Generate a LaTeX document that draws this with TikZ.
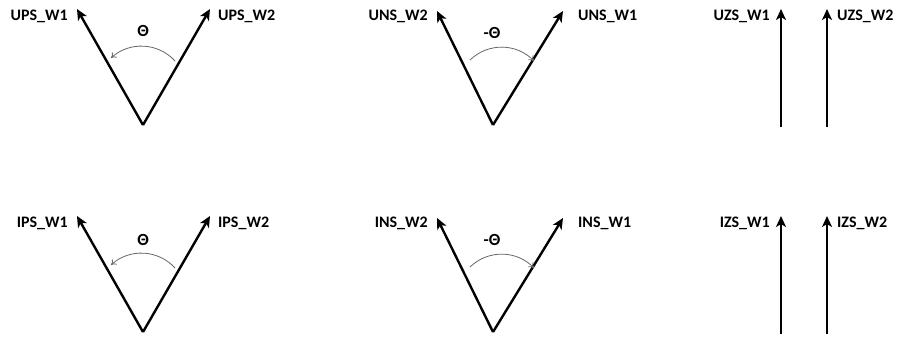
\documentclass[tikz,border=0pt]{standalone}
\usepackage{fontspec}
\setmainfont{Carlito}
\usetikzlibrary{arrows.meta}
\begin{document}
\begin{tikzpicture}[x=1pt,y=-1pt,
  vec/.style={line width=2.4pt,-{Stealth[length=11pt,width=10pt,inset=3pt]}},
  ang/.style={draw=black!60,line width=0.8pt,-{To[length=5pt,width=7pt]}},
  lbl/.style={font=\bfseries\fontsize{16}{18}\selectfont,inner sep=0pt},
  theta/.style={font=\bfseries\fontsize{17}{19}\selectfont,inner sep=0pt}]
\useasboundingbox (0,0) rectangle (899,337);
% ---- top row
\coordinate (v1) at (143,125);
\coordinate (a1) at (77,9);
\coordinate (b1) at (210,9);
\draw[vec] (v1) -- (a1);
\draw[vec] (v1) -- (b1);
\node[lbl,anchor=east] (la1) at (68,16) {UPS\_W1};
\node[lbl,anchor=west] (lb1) at (218,16) {UPS\_W2};
\coordinate (s1) at (175,61);
\coordinate (e1) at (111,58);
\draw[ang] (s1) to[bend right=45] (e1);
\node[theta] (t1) at (143,31) {Θ};

\coordinate (v2) at (493,125);
\coordinate (a2) at (437,11);
\coordinate (b2) at (563,11);
\draw[vec] (v2) -- (a2);
\draw[vec] (v2) -- (b2);
\node[lbl,anchor=east] (la2) at (428,16) {UNS\_W2};
\node[lbl,anchor=west] (lb2) at (578,16) {UNS\_W1};
\coordinate (s2) at (470,60);
\coordinate (e2) at (534,61);
\draw[ang] (s2) to[bend left=45] (e2);
\node[theta] (t2) at (492,33) {-Θ};

\coordinate (p1) at (781,127);
\coordinate (q1) at (781,9);
\coordinate (p2) at (827,127);
\coordinate (q2) at (827,9);
\draw[vec] (p1) -- (q1);
\draw[vec] (p2) -- (q2);
\node[lbl,anchor=east] (lc1) at (770,16) {UZS\_W1};
\node[lbl,anchor=west] (lc2) at (837,16) {UZS\_W2};
% ---- bottom row
\coordinate (v3) at (143,332);
\coordinate (a3) at (77,216);
\coordinate (b3) at (210,216);
\draw[vec] (v3) -- (a3);
\draw[vec] (v3) -- (b3);
\node[lbl,anchor=east] (la3) at (68,223) {IPS\_W1};
\node[lbl,anchor=west] (lb3) at (218,223) {IPS\_W2};
\coordinate (s3) at (175,268);
\coordinate (e3) at (111,265);
\draw[ang] (s3) to[bend right=45] (e3);
\node[theta] (t3) at (143,240) {Θ};

\coordinate (v4) at (493,332);
\coordinate (a4) at (437,218);
\coordinate (b4) at (563,218);
\draw[vec] (v4) -- (a4);
\draw[vec] (v4) -- (b4);
\node[lbl,anchor=east] (la4) at (428,223) {INS\_W2};
\node[lbl,anchor=west] (lb4) at (578,223) {INS\_W1};
\coordinate (s4) at (470,267);
\coordinate (e4) at (534,268);
\draw[ang] (s4) to[bend left=45] (e4);
\node[theta] (t4) at (492,240) {-Θ};

\coordinate (p3) at (781,334);
\coordinate (q3) at (781,216);
\coordinate (p4) at (827,334);
\coordinate (q4) at (827,216);
\draw[vec] (p3) -- (q3);
\draw[vec] (p4) -- (q4);
\node[lbl,anchor=east] (lc3) at (770,223) {IZS\_W1};
\node[lbl,anchor=west] (lc4) at (837,223) {IZS\_W2};
\end{tikzpicture}
\end{document}
